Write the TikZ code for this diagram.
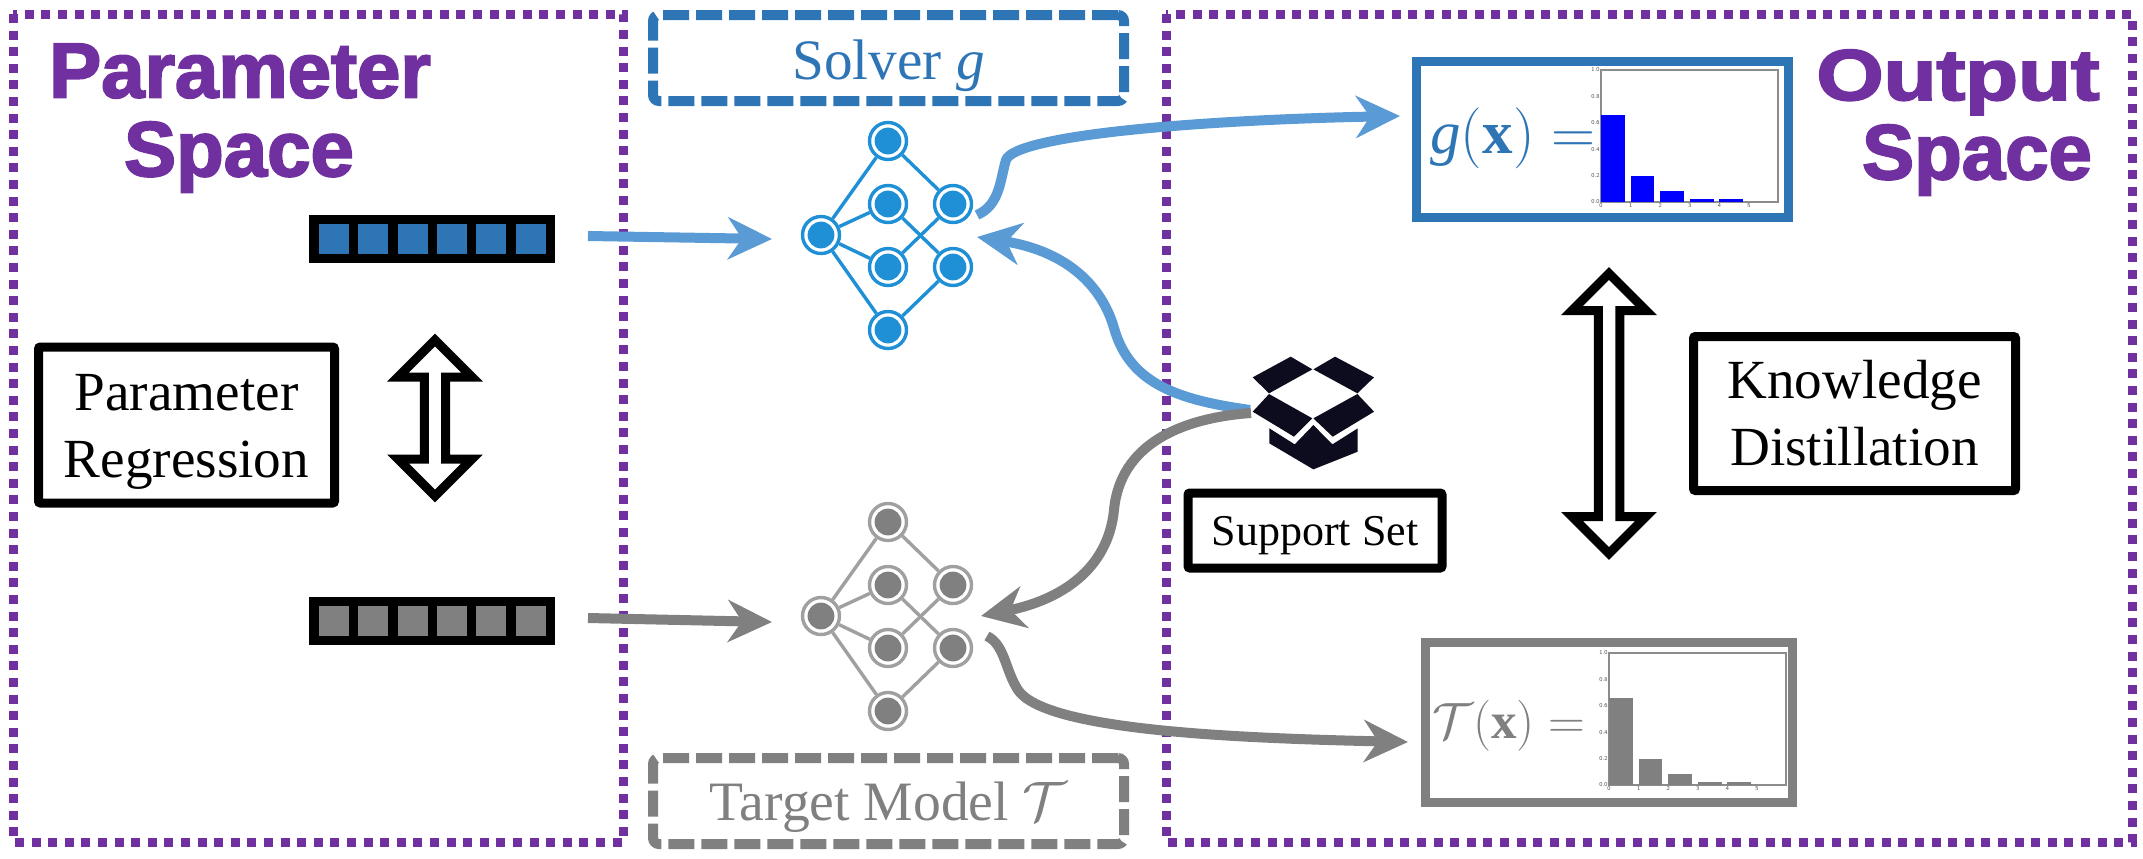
\documentclass[tikz,border=0pt]{standalone}
\usepackage{fix-cm}
\usepackage{amsmath}
\usepackage{fontspec}
\setmainfont{Liberation Serif}
\newfontfamily\heavyfont[BoldFeatures={FakeBold=2.5}]{Liberation Sans}
\usetikzlibrary{arrows.meta,shapes.arrows}

\definecolor{solverblue}{HTML}{2E75B6}
\definecolor{arrowblue}{HTML}{5B9BD5}
\definecolor{netblue}{HTML}{1F8FD6}
\definecolor{targetgray}{HTML}{808080}
\definecolor{netgray}{HTML}{A0A0A0}
\definecolor{spacepurple}{HTML}{7030A0}
\definecolor{boxink}{HTML}{0D0B1E}

\tikzset{
	spacebox/.style={draw=spacepurple,line width=4.5pt,dash pattern=on 4.5pt off 3.8pt},
	modelbox/.style={draw=#1,text=#1,line width=5pt,dash pattern=on 13pt off 3.5pt,rounded corners=3pt,minimum width=235.5pt,minimum height=43pt,inner sep=0pt,text depth=0pt,font=\fontsize{28.6}{33}\selectfont},
	framebox/.style={draw=#1,line width=4.5pt,inner sep=0pt},
	textbox/.style={draw=black,line width=4.5pt,rounded corners=1pt,align=center,inner sep=0pt,font=\fontsize{27.6}{33.5}\selectfont},
	spacelabel/.style={text=spacepurple,inner sep=0pt,font=\heavyfont\bfseries\fontsize{39}{39}\selectfont},
	flow/.style={draw=#1,line width=5pt,-{Stealth[length=22pt,width=21pt,inset=7pt]}},
	vecframe/.style={fill=black,minimum width=123pt,minimum height=24pt,inner sep=0pt},
	veccell/.style={fill=#1,minimum size=15pt,inner sep=0pt},
	netnode/.style n args={2}{circle,draw=#1,fill=white,line width=1.7pt,minimum size=18.5pt,inner sep=0pt,path picture={\fill[#2] (path picture bounding box.center) circle (6.7pt);}},
	netedge/.style={draw=#1,line width=1.7pt},
	bothways/.style={double arrow,shape border rotate=90,draw=black,fill=white,line width=4.5pt,inner sep=0pt,minimum width=37pt,double arrow head extend=5.5pt},
	charttick/.style={text=black!70,inner sep=0.5pt,font=\sffamily\fontsize{3}{3}\selectfont}
}

% prefix, colour of the rings, colour of the dots, shift down
\newcommand{\drawnet}[4]{
	\foreach \n/\x/\y in {a/888/141,b/888/204,c/953/204,d/821/235,e/888/267,f/953/267,h/888/330}
		\node[netnode={#2}{#3}] (#1\n) at (\x,\y+#4) {};
	\foreach \s/\t in {a/d,a/c,d/b,d/e,d/h,b/f,e/c,h/f}
		\draw[netedge=#2] (#1\s) -- (#1\t);
}

% axes left, axes bottom, bar colour
\newcommand{\drawchart}[3]{
	\draw[black!45,line width=0.6pt] (#1,#2) rectangle (#1+177,#2-132);
	\foreach \v/\h in {0/0.66,1/0.2,2/0.085,3/0.025,4/0.02}
		\fill[#3] (#1+\v*29.6,#2) rectangle (#1+\v*29.6+23.7,#2-\h*132);
	\foreach \v in {0,...,5}
		\node[charttick,below] at (#1+\v*29.6,#2) {\v};
	\foreach \v in {0.0,0.2,0.4,0.6,0.8,1.0}
		\node[charttick,left] at (#1,#2-\v*132) {\v};
}

\begin{document}
\begin{tikzpicture}[x=0.5pt,y=-0.5pt]
\useasboundingbox (0,0) rectangle (2143,858);

\draw[spacebox] (13,14) rectangle (623,842);
\draw[spacebox] (1166,14) rectangle (2132,842);
\node[spacelabel] (paramword) at (240,71) {Parameter};
\node[spacelabel] (paramspace) at (239,157) {Space};
\node[spacelabel,anchor=base,font=\heavyfont\bfseries\fontsize{36}{36}\selectfont] (outputword) at (1958,100) {\scalebox{1.2}[1]{Output}};
\node[spacelabel] (outputspace) at (1977,160) {Space};

\node[modelbox=solverblue,text height=21pt] (solver) at (888.5,58) {Solver $\mathit{g}$};
\node[modelbox=targetgray,text height=19pt,font=\fontsize{27.8}{33}\selectfont] (target) at (888.5,801) {Target Model $\mathcal{T}$};

% parameter vectors
\node[vecframe] (bluevec) at (432,239) {};
\node[vecframe] (grayvec) at (432,621) {};
\foreach \x in {334,373,412.5,452,491,531} {
	\node[veccell=solverblue] at (\x,239) {};
	\node[veccell=targetgray] at (\x,621) {};
}

\node[textbox,minimum width=148pt,minimum height=78pt] (regression) at (186.5,425) {\rule{0pt}{25.4pt}Parameter\\Regression};
\node[bothways,minimum height=78pt] (leftarrow) at (435,418) {};

\drawnet{s}{netblue}{netblue}{0}
\drawnet{t}{netgray}{targetgray}{381}

% frames with the outputs
\node[framebox=solverblue,minimum width=186pt,minimum height=78pt] (solverout) at (1602.5,139) {};
\node[framebox=targetgray,minimum width=183.5pt,minimum height=80pt] (targetout) at (1609,722.5) {};
\node[text=solverblue,font=\fontsize{30.5}{30.5}\selectfont,inner sep=0pt] (gformula) at (1513,138) {$\mathit{g}(\mathbf{x}) =$};
\node[text=targetgray,font=\fontsize{25.5}{25.5}\selectfont,inner sep=0pt] (tformula) at (1509,726) {$\mathcal{T}(\mathbf{x}) =$};
\drawchart{1601}{202}{blue}
\drawchart{1609}{785}{targetgray}

\node[bothways,minimum height=140pt] (rightarrow) at (1609,413.5) {};
\node[textbox,minimum width=161pt,minimum height=77pt] (distill) at (1854.5,413.5) {Knowledge\\Distillation};

% support set
\begin{scope}[shift={(1150,340)},x=0.1667pt,y=-0.1667pt]
	\fill[boxink] (308,112) -- (422,50) -- (487,88) -- (357,160) -- cycle;
	\fill[boxink] (490,88) -- (555,50) -- (672,112) -- (622,160) -- cycle;
	\fill[boxink] (308,215) -- (357,162) -- (487,235) -- (432,290) -- cycle;
	\fill[boxink] (490,235) -- (622,162) -- (672,215) -- (548,290) -- cycle;
	\fill[boxink] (358,265) -- (434,313) -- (490,255) -- (547,313) -- (623,265) -- (623,335) -- (490,388) -- (358,310) -- cycle;
\end{scope}
\node[textbox,minimum width=127pt,minimum height=37.5pt,text height=15.4pt,text depth=0pt,font=\fontsize{22}{26}\selectfont] (support) at (1315,530.5) {Support Set};

\coordinate (bluein) at (588,236);
\coordinate (grayin) at (588,618);
\coordinate (blueouta) at (977,215);
\coordinate (grayouta) at (987,636);
\coordinate (boxa) at (1250,410);
\coordinate (boxb) at (1251,413);
\coordinate (blueend) at (1400,116);
\coordinate (grayend) at (1408,742);
\coordinate (bluetip) at (977,237);
\coordinate (graytip) at (981,616);
\coordinate (bluestop) at (772,239);
\coordinate (graystop) at (772,622);

\draw[flow=arrowblue] (bluein) -- (bluestop);
\draw[flow=targetgray] (grayin) -- (graystop);
\draw[flow=arrowblue] (blueouta) .. controls (1000,205) and (1000,180) .. (1006,160) .. controls (1015,135) and (1200,120) .. (blueend);
\draw[flow=targetgray] (grayouta) .. controls (1005,645) and (1005,670) .. (1018,690) .. controls (1045,730) and (1230,738) .. (grayend);
\draw[flow=arrowblue] (boxa) .. controls (1180,400) and (1130,385) .. (1114,328) .. controls (1100,280) and (1060,250) .. (bluetip);
\draw[flow=targetgray] (boxb) .. controls (1180,418) and (1120,445) .. (1114,510) .. controls (1108,570) and (1060,600) .. (graytip);
\end{tikzpicture}
\end{document}
